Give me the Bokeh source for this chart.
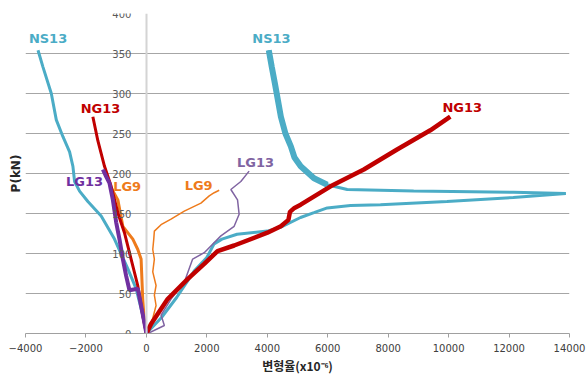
from bokeh.plotting import figure
from bokeh.models import FixedTicker, Grid, Title, ColumnDataSource
from bokeh.core.properties import value
from bokeh.embed import file_html
from bokeh.resources import INLINE

# ---- data (strain x1e-6, load kN) ----
ns13_c_x = [0, -121, -341, -616, -1056, -1496, -1936, -2211, -2376, -2431, -2541, -2761, -2981, -3146, -3421, -3586]
ns13_c_y = [0, 23, 56, 81, 118, 147, 165, 178, 190, 209, 227, 246, 267, 300, 333, 354]

ns13_t_x = [0, 500, 1000, 1580, 2000, 2240, 2500, 3000, 4000, 4450, 5100, 5545, 5985, 6755, 7745, 9946, 12140, 13880,
            12144, 8844, 6646, 5985, 5545, 5105, 4900, 4780, 4600, 4450, 4350, 4250, 4150, 4050]
ns13_t_y = [0, 20, 45, 78, 95, 112, 118, 124, 128, 133, 145, 151, 157, 160, 161, 165, 170, 175,
            176.6, 178, 180, 186, 194, 209, 220, 234, 250, 271, 292, 313, 333, 354]

ng13_c_x = [0, -121, -286, -506, -726, -946, -1166, -1386, -1606, -1771]
ng13_c_y = [0, 23, 60, 93, 126, 151, 184, 209, 241, 271]

ng13_t_x = [0, 154, 704, 1364, 1914, 2354, 2904, 4004, 4450, 4700, 4750, 4900, 5105, 6095, 7195, 8295, 9395, 10055]
ng13_t_y = [0, 12, 43, 68, 87, 103, 110, 126, 134, 142, 152, 157, 161, 184, 205, 230, 254, 271]

lg13_c_x = [0, -100, -284, -561, -670, -779, -891, -1000, -1109, -1221, -1330, -1439]
lg13_c_y = [0, 20, 56, 54, 72, 93, 118, 139, 167, 188, 196, 205]

lg13_t_x = [0, 46, 594, 485, 815, 1254, 1531, 1914, 2465, 2904, 3069, 3016, 2795, 3125, 3399]
lg13_t_y = [0, 0, 10, 23, 43, 64, 93, 101, 122, 134, 149, 167, 180, 190, 203]

lg9_c_x = [0, -66, -121, -175, -284, -449, -779, -944, -1162]
lg9_c_y = [0, 14, 43, 93, 105, 118, 134, 167, 182]

lg9_t_x = [0, 211, 320, 264, 320, 211, 264, 211, 244, 264, 485, 815, 1254, 1805, 2079, 2244, 2409]
lg9_t_y = [0, 19, 35, 48, 60, 77, 93, 105, 118, 128, 136, 143, 153, 163, 172, 176, 179]

x_ticks = [-4000, -2000, 0, 2000, 4000, 6000, 8000, 10000, 12000, 14000]
y_ticks = [0, 50, 100, 150, 200, 250, 300, 350, 400]

label_text = ["NS13", "NS13", "NG13", "NG13", "LG13", "LG13", "LG9", "LG9"]
label_x = [-3254, 4138, -1518, 10451, -2046, 3610, -637, 1729]
label_y = [369, 369, 281, 282, 190, 214, 184, 185]

TEAL = "#4BACC6"
RED = "#C00000"
PURPLE_D = "#7030A0"
PURPLE_L = "#8064A2"
ORANGE = "#EE7B1C"
label_color = [TEAL, TEAL, RED, RED, PURPLE_D, PURPLE_L, ORANGE, ORANGE]

p = figure(width=587, height=376, x_range=(-4000, 14000), y_range=(0, 400),
           output_backend="svg", toolbar_location=None,
           min_border_left=25, min_border_right=18, min_border_top=13, min_border_bottom=41)
p.outline_line_color = None
p.background_fill_color = "white"

# grids
p.ygrid.ticker = FixedTicker(ticks=y_ticks)
p.ygrid.grid_line_color = "#a6a6a6"
p.ygrid.grid_line_width = 1
p.xgrid.ticker = FixedTicker(ticks=[-4000])
p.xgrid.grid_line_color = "#c8c8c8"
p.xgrid.grid_line_width = 3
right_border = Grid(dimension=0, ticker=FixedTicker(ticks=[14000]), grid_line_color="#7f7f7f", grid_line_width=2)
p.add_layout(right_border)

# axes
p.xaxis.ticker = FixedTicker(ticks=x_ticks)
p.xaxis.axis_line_color = "#a0a0a0"
p.xaxis.major_tick_line_color = "#a0a0a0"
p.xaxis.major_tick_out = 4
p.xaxis.major_tick_in = 0
p.xaxis.minor_tick_line_color = None
p.xaxis.major_label_standoff = 6
p.xaxis.major_label_text_font = "DejaVu Sans"
p.xaxis.major_label_text_font_size = "10px"
p.xaxis.major_label_text_color = "#404040"
p.xaxis.axis_label = "변형율(x10⁻⁶)"
p.xaxis.axis_label_text_font = "Noto Sans CJK KR"
p.xaxis.axis_label_text_font_style = "bold"
p.xaxis.axis_label_text_font_size = "12px"
p.xaxis.axis_label_text_color = "#262626"
p.xaxis.axis_label_standoff = 2

p.yaxis.fixed_location = 0
p.yaxis.ticker = FixedTicker(ticks=y_ticks)
p.yaxis.axis_line_color = "#d4d4d4"
p.yaxis.axis_line_width = 2
p.yaxis.major_tick_line_color = None
p.yaxis.minor_tick_line_color = None
p.yaxis.major_label_standoff = 9
p.yaxis.major_label_text_font = "DejaVu Sans"
p.yaxis.major_label_text_font_size = "10px"
p.yaxis.major_label_text_color = "#595959"

p.add_layout(Title(text="P(kN)", align="center", text_font="DejaVu Sans", text_font_style="bold",
                   text_font_size="12px", text_color="#262626", standoff=5), "left")

# series
p.line(ns13_c_x, ns13_c_y, line_color=TEAL, line_width=3)
p.line(ns13_t_x, ns13_t_y, line_color=TEAL, line_width=3)
k = ns13_t_y.index(186)
p.line(ns13_t_x[k:], ns13_t_y[k:], line_color=TEAL, line_width=6)
p.line(lg9_t_x, lg9_t_y, line_color=ORANGE, line_width=1.5)
p.line(lg13_t_x, lg13_t_y, line_color=PURPLE_L, line_width=1.5)
p.line(ng13_t_x, ng13_t_y, line_color=RED, line_width=4.5)
p.line(lg9_c_x, lg9_c_y, line_color=ORANGE, line_width=3)
p.line(ng13_c_x, ng13_c_y, line_color=RED, line_width=3)
p.line(lg13_c_x, lg13_c_y, line_color=PURPLE_D, line_width=4)

src = ColumnDataSource(dict(x=label_x, y=label_y, t=label_text, c=label_color))
p.text(x="x", y="y", text="t", text_color="c", source=src, text_align="center", text_baseline="middle",
       text_font=value("DejaVu Sans"), text_font_style="bold", text_font_size="13px")

open("out.html", "w").write(file_html(p, INLINE))
